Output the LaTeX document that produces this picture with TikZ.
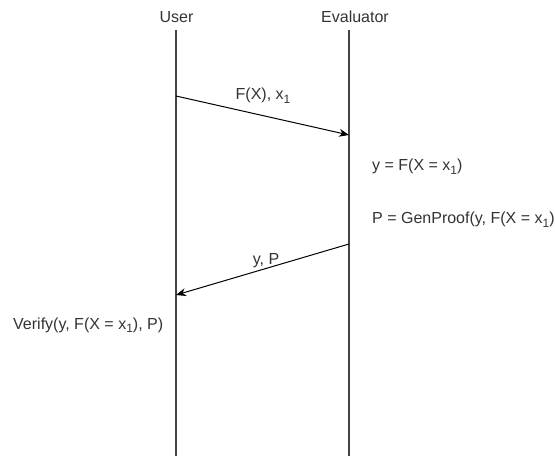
\documentclass[tikz,border=0pt]{standalone}
\usepackage{fontspec}
\setmainfont{Liberation Sans}
\usetikzlibrary{arrows.meta}
\definecolor{txt}{HTML}{333333}
\definecolor{life}{HTML}{444444}
\newcommand{\subone}{\raisebox{-3.5pt}{\fontsize{12}{12}\selectfont 1}}
\begin{document}
\begin{tikzpicture}[x=1pt,y=-1pt,
  lifeline/.style={draw=life,line width=1.1pt},
  msg/.style={draw=black,line width=1pt,-{Stealth[length=10pt,width=8pt]}},
  lbl/.style={text=txt,font=\fontsize{16}{18}\selectfont,inner sep=0pt},
]
\path[use as bounding box] (0,0) rectangle (555,457);
\clip (0,0) rectangle (555,457);
% headers
\node[lbl,anchor=base] (user) at (176.5,22.5) {User};
\node[lbl,anchor=base] (eval) at (355,22.5) {Evaluator};
% lifelines
\coordinate (ut) at (176,30);
\coordinate (ub) at (176,456);
\coordinate (et) at (349,30);
\coordinate (eb) at (349,456);
\draw[lifeline] (ut) -- (ub);
\draw[lifeline] (et) -- (eb);
% message 1
\coordinate (m1s) at (176,96);
\coordinate (m1e) at (349,135);
\draw[msg] (m1s) -- (m1e);
\node[lbl,anchor=base] (l1) at (263,100) {F(X), x\subone};
% evaluator computations
\node[lbl,anchor=base west] (c1) at (372,171) {y = F(X = x\subone)};
\node[lbl,anchor=base west] (c2) at (372,224) {P = GenProof(y, F(X = x\subone)};
% message 2
\coordinate (m2s) at (349,244);
\coordinate (m2e) at (176,295);
\draw[msg] (m2s) -- (m2e);
\node[lbl,anchor=base] (l2) at (266,265) {y, P};
% verification
\node[lbl,anchor=base west] (v) at (13,329.5) {Verify(y, F(X = x\subone), P)};
\end{tikzpicture}
\end{document}
